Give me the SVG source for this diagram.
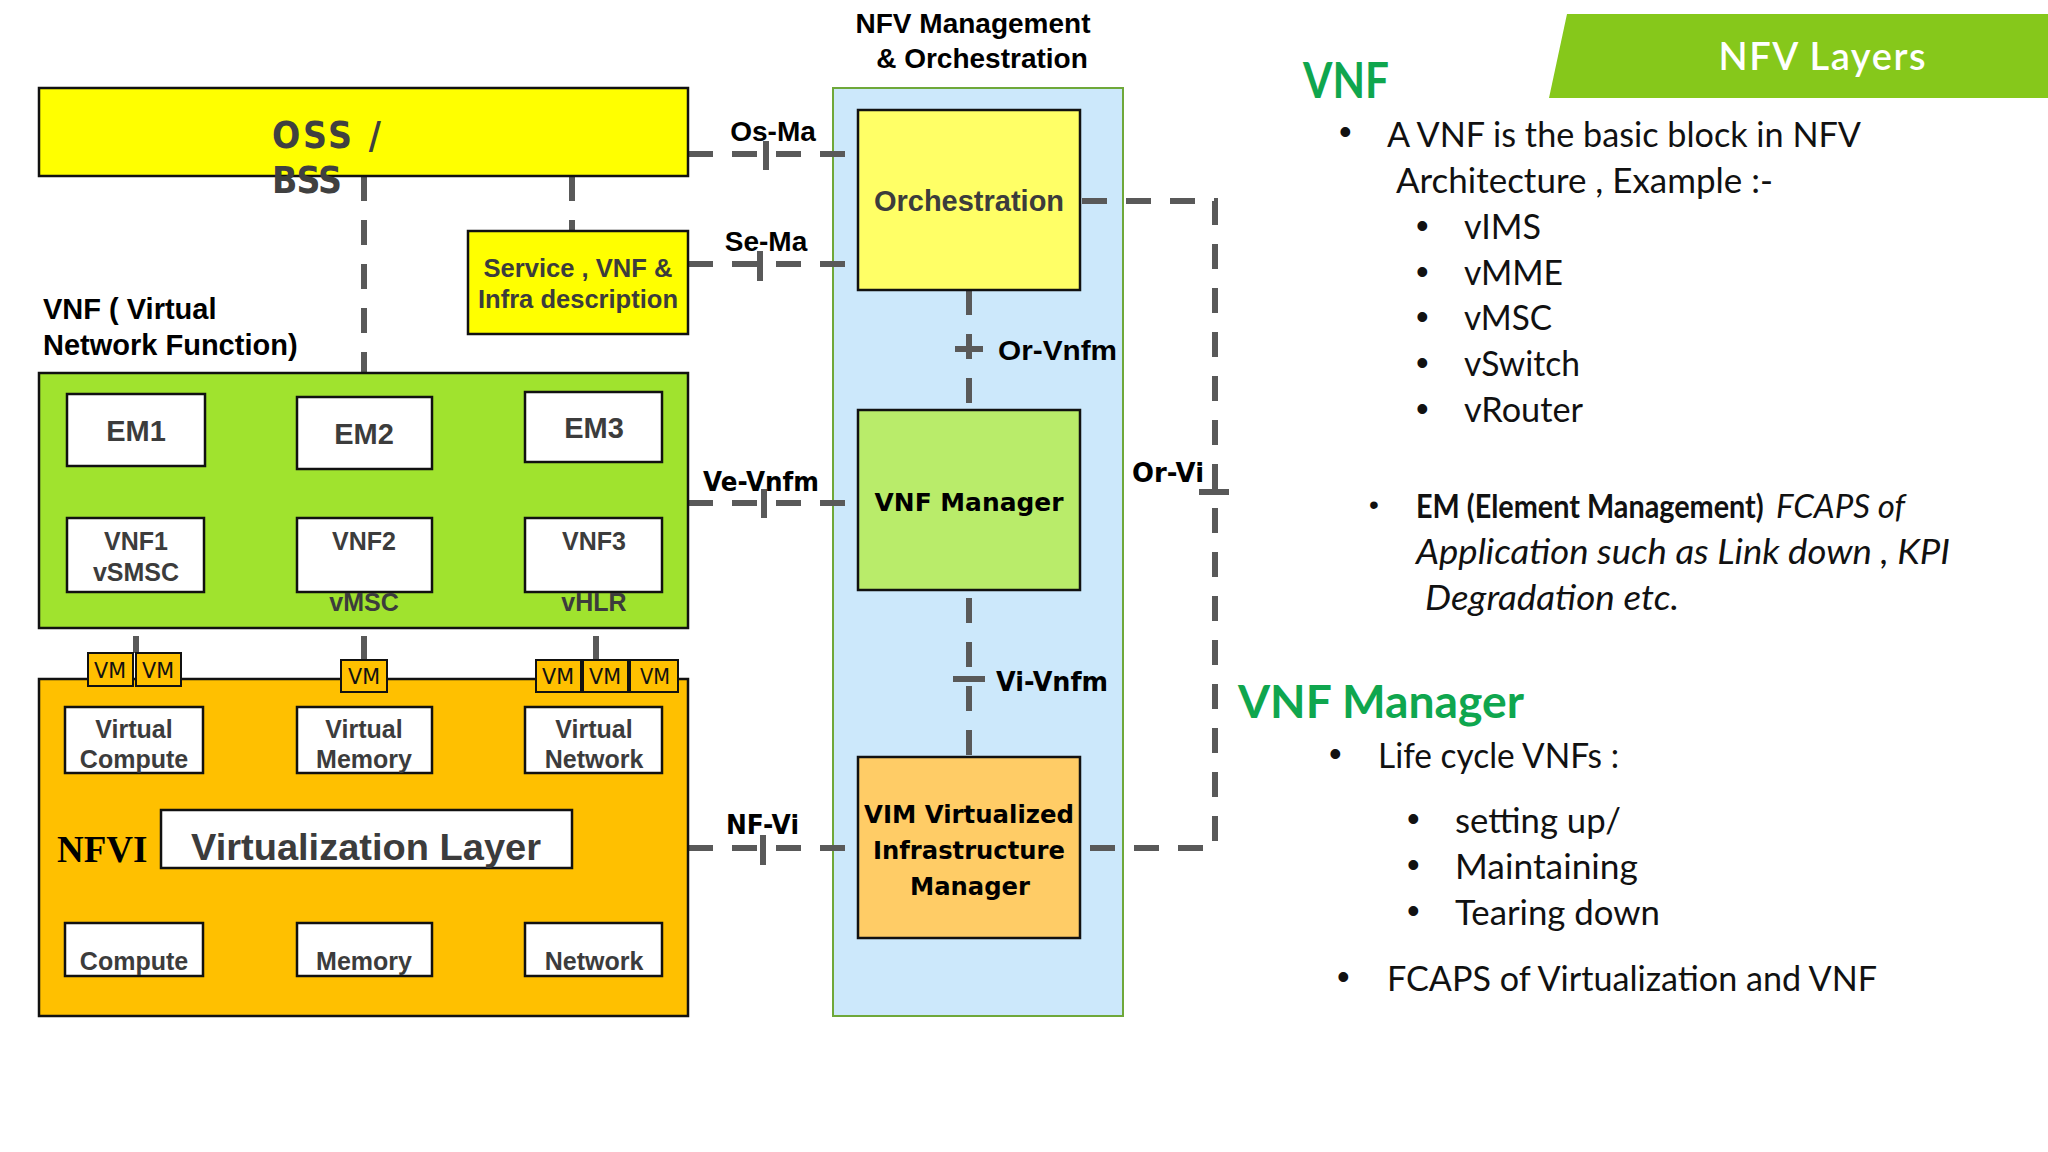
<svg xmlns="http://www.w3.org/2000/svg" width="2048" height="1152" viewBox="0 0 2048 1152">
<style>
.box{stroke:#111;stroke-width:2.5}
.w{fill:#fff}
.lbl{font-family:"Liberation Sans",Arial,sans-serif;font-weight:bold;fill:#3c3c3c;text-anchor:middle}
.blk{font-family:"Liberation Sans",Arial,sans-serif;font-weight:bold;fill:#000}
.dj{font-family:"DejaVu Sans",sans-serif;font-weight:bold;fill:#000}
.vm{fill:#FFC000;stroke:#111;stroke-width:2}
.vmt{font-family:"DejaVu Sans Condensed","DejaVu Sans",sans-serif;font-size:22px;fill:#111;text-anchor:middle}
.dash{fill:none;stroke:#595959;stroke-width:6;stroke-dasharray:25 19}
.tick{stroke:#595959;stroke-width:6}
.rt{font-family:Lato,"Open Sans",sans-serif;fill:#111}
.bul{font-family:"Liberation Sans",Arial,sans-serif;fill:#111;font-size:36px}
.grn{font-family:Lato,"Open Sans",sans-serif;font-weight:bold;fill:#0FA64E}
</style>

<rect x="0" y="0" width="2048" height="1152" fill="#fff"/>

<g id="mano">
<rect x="833" y="88" width="290" height="928" fill="#CCE8FB" stroke="#6FA83A" stroke-width="2"/>
<text class="blk" x="973" y="33" font-size="28" text-anchor="middle">NFV Management</text>
<text class="blk" x="982" y="68" font-size="28" text-anchor="middle">&amp; Orchestration</text>
</g>

<g id="connectors">
<line class="dash" x1="364" y1="176" x2="364" y2="373"/>
<line class="dash" x1="572" y1="176" x2="572" y2="231"/>
<line class="dash" x1="136" y1="466" x2="136" y2="518"/>
<line class="dash" x1="364" y1="469" x2="364" y2="518"/>
<line class="dash" x1="596" y1="462" x2="596" y2="518"/>
<line class="dash" x1="136" y1="592" x2="136" y2="653" stroke-dasharray="20 20"/>
<line class="dash" x1="364" y1="592" x2="364" y2="659" stroke-dasharray="20 20"/>
<line class="dash" x1="596" y1="592" x2="596" y2="659" stroke-dasharray="20 20"/>

<line class="dash" x1="688" y1="154" x2="858" y2="154"/>
<line class="tick" x1="766" y1="141" x2="766" y2="170"/>
<line class="dash" x1="688" y1="264" x2="850" y2="264"/>
<line class="tick" x1="760" y1="251" x2="760" y2="281"/>
<line class="dash" x1="688" y1="503" x2="858" y2="503"/>
<line class="tick" x1="764" y1="489" x2="764" y2="518"/>
<line class="dash" x1="688" y1="848" x2="858" y2="848"/>
<line class="tick" x1="763" y1="835" x2="763" y2="865"/>

<line class="dash" x1="969" y1="290" x2="969" y2="410"/>
<line class="tick" x1="955" y1="349" x2="983" y2="349"/>
<line class="dash" x1="969" y1="598" x2="969" y2="757"/>
<line class="tick" x1="953" y1="679" x2="985" y2="679"/>

<path class="dash" d="M1082,201 H1215 V848 H1082"/>
<line class="tick" x1="1199" y1="492" x2="1229" y2="492"/>

<text class="blk" x="773" y="141" font-size="28" text-anchor="middle">Os-Ma</text>
<text class="blk" x="766" y="251" font-size="28" text-anchor="middle">Se-Ma</text>
<text class="dj" x="703" y="491" font-size="26" textLength="116" lengthAdjust="spacingAndGlyphs">Ve-Vnfm</text>
<text class="dj" x="726" y="834" font-size="26" textLength="73" lengthAdjust="spacingAndGlyphs">NF-Vi</text>
<text class="blk" x="998" y="360" font-size="28" textLength="119" lengthAdjust="spacingAndGlyphs">Or-Vnfm</text>
<text class="dj" x="996" y="691" font-size="26" textLength="112" lengthAdjust="spacingAndGlyphs">Vi-Vnfm</text>
<text class="dj" x="1132" y="482" font-size="26" textLength="72" lengthAdjust="spacingAndGlyphs">Or-Vi</text>
</g>

<g id="oss">
<rect class="box" x="39" y="88" width="649" height="88" fill="#FFFF00"/>
<text x="272" y="148" font-family="'DejaVu Sans Condensed','DejaVu Sans',sans-serif" font-weight="bold" font-size="37" fill="#404040" textLength="109" lengthAdjust="spacing">OSS /</text>
<text x="272" y="193" font-family="'DejaVu Sans Condensed','DejaVu Sans',sans-serif" font-weight="bold" font-size="37" fill="#404040" textLength="70" lengthAdjust="spacing">BSS</text>
</g>

<g id="service">
<rect class="box" x="468" y="231" width="220" height="103" fill="#FFFF00"/>
<text class="lbl" x="578" y="277" font-size="25" textLength="189" lengthAdjust="spacingAndGlyphs">Service , VNF &amp;</text>
<text class="lbl" x="578" y="308" font-size="25" textLength="200" lengthAdjust="spacingAndGlyphs">Infra description</text>
</g>

<g id="vnf-title">
<text class="blk" x="43" y="319" font-size="29">VNF ( Virtual</text>
<text class="blk" x="43" y="355" font-size="29">Network Function)</text>
</g>

<g id="vnf-layer">
<rect class="box" x="39" y="373" width="649" height="255" fill="#A0E32E"/>
</g>
<g id="em1"><rect class="box w" x="67" y="394" width="138" height="72"/><text class="lbl" x="136" y="441" font-size="29">EM1</text></g>
<g id="em2"><rect class="box w" x="297" y="397" width="135" height="72"/><text class="lbl" x="364" y="444" font-size="29">EM2</text></g>
<g id="em3"><rect class="box w" x="525" y="392" width="137" height="70"/><text class="lbl" x="594" y="438" font-size="29">EM3</text></g>
<g id="vnf1"><rect class="box w" x="67" y="518" width="137" height="74"/><text class="lbl" x="136" y="550" font-size="25">VNF1</text><text class="lbl" x="136" y="581" font-size="25">vSMSC</text></g>
<g id="vnf2"><rect class="box w" x="297" y="518" width="135" height="74"/><text class="lbl" x="364" y="550" font-size="25">VNF2</text><text class="lbl" x="364" y="611" font-size="25">vMSC</text></g>
<g id="vnf3"><rect class="box w" x="525" y="518" width="137" height="74"/><text class="lbl" x="594" y="550" font-size="25">VNF3</text><text class="lbl" x="594" y="611" font-size="25">vHLR</text></g>

<g id="nfvi">
<rect class="box" x="39" y="679" width="649" height="337" fill="#FFC000"/>
<text x="57" y="862" font-family="'Liberation Serif','Times New Roman',serif" font-weight="bold" font-size="37" fill="#000">NFVI</text>
</g>
<g id="vm-group">
<rect class="vm" x="88" y="653" width="45" height="33"/><text class="vmt" x="110" y="678" textLength="32" lengthAdjust="spacingAndGlyphs">VM</text>
<rect class="vm" x="136" y="653" width="45" height="33"/><text class="vmt" x="158" y="678" textLength="32" lengthAdjust="spacingAndGlyphs">VM</text>
<rect class="vm" x="341" y="660" width="46" height="32"/><text class="vmt" x="364" y="684" textLength="32" lengthAdjust="spacingAndGlyphs">VM</text>
<rect class="vm" x="536" y="660" width="45" height="32"/><text class="vmt" x="558" y="684" textLength="32" lengthAdjust="spacingAndGlyphs">VM</text>
<rect class="vm" x="583" y="660" width="45" height="32"/><text class="vmt" x="605" y="684" textLength="32" lengthAdjust="spacingAndGlyphs">VM</text>
<rect class="vm" x="630" y="660" width="48" height="32"/><text class="vmt" x="655" y="684" textLength="30" lengthAdjust="spacingAndGlyphs">VM</text>
</g>
<g id="vcompute"><rect class="box w" x="65" y="707" width="138" height="66"/><text class="lbl" x="134" y="738" font-size="25">Virtual</text><text class="lbl" x="134" y="768" font-size="25">Compute</text></g>
<g id="vmemory"><rect class="box w" x="297" y="707" width="135" height="66"/><text class="lbl" x="364" y="738" font-size="25">Virtual</text><text class="lbl" x="364" y="768" font-size="25">Memory</text></g>
<g id="vnetwork"><rect class="box w" x="525" y="707" width="137" height="66"/><text class="lbl" x="594" y="738" font-size="25">Virtual</text><text class="lbl" x="594" y="768" font-size="25">Network</text></g>
<g id="virt-layer"><rect class="box w" x="161" y="810" width="411" height="58"/><text x="191" y="860" font-family="'Liberation Sans',Arial,sans-serif" font-weight="bold" font-size="37" fill="#3c3c3c" textLength="350" lengthAdjust="spacingAndGlyphs">Virtualization Layer</text></g>
<g id="compute"><rect class="box w" x="65" y="923" width="138" height="53"/><text class="lbl" x="134" y="970" font-size="25">Compute</text></g>
<g id="memory"><rect class="box w" x="297" y="923" width="135" height="53"/><text class="lbl" x="364" y="970" font-size="25">Memory</text></g>
<g id="network"><rect class="box w" x="525" y="923" width="137" height="53"/><text class="lbl" x="594" y="970" font-size="25">Network</text></g>

<g id="orchestration"><rect class="box" x="858" y="110" width="222" height="180" fill="#FFFF66"/><text class="lbl" x="969" y="211" font-size="29">Orchestration</text></g>
<g id="vnfm"><rect class="box" x="858" y="410" width="222" height="180" fill="#B9EC6A"/><text class="dj" x="969" y="511" font-size="25" text-anchor="middle" textLength="189" lengthAdjust="spacingAndGlyphs">VNF Manager</text></g>
<g id="vim"><rect class="box" x="858" y="757" width="222" height="181" fill="#FFCC66"/>
<text class="dj" x="969" y="823" font-size="25" text-anchor="middle" textLength="210" lengthAdjust="spacingAndGlyphs">VIM Virtualized</text>
<text class="dj" x="969" y="859" font-size="25" text-anchor="middle" textLength="192" lengthAdjust="spacingAndGlyphs">Infrastructure</text>
<text class="dj" x="970" y="895" font-size="25" text-anchor="middle" textLength="120" lengthAdjust="spacingAndGlyphs">Manager</text>
</g>

<g id="banner">
<polygon points="1567,14 2048,14 2048,98 1549,98" fill="#86C81B"/>
<text x="1822" y="70" font-family="Lato,'Open Sans',sans-serif" font-weight="600" font-size="38" fill="#fff" text-anchor="middle" textLength="207" lengthAdjust="spacing">NFV Layers</text>
</g>
<g id="vnf-notes">
<text class="grn" x="1303" y="98" font-size="50" textLength="86" lengthAdjust="spacingAndGlyphs">VNF</text>
<text class="bul" x="1339" y="144">•</text>
<text class="rt" x="1387" y="147" font-size="34" textLength="474" lengthAdjust="spacingAndGlyphs">A VNF is the basic block in NFV</text>
<text class="rt" x="1396" y="193" font-size="34" textLength="377" lengthAdjust="spacingAndGlyphs">Architecture , Example :-</text>
<text class="bul" x="1416" y="238">•</text>
<text class="rt" x="1464" y="239" font-size="34" textLength="77" lengthAdjust="spacingAndGlyphs">vIMS</text>
<text class="bul" x="1416" y="284">•</text>
<text class="rt" x="1464" y="285" font-size="34" textLength="99" lengthAdjust="spacingAndGlyphs">vMME</text>
<text class="bul" x="1416" y="329">•</text>
<text class="rt" x="1464" y="330" font-size="34" textLength="88" lengthAdjust="spacingAndGlyphs">vMSC</text>
<text class="bul" x="1416" y="375">•</text>
<text class="rt" x="1464" y="376" font-size="34" textLength="116" lengthAdjust="spacingAndGlyphs">vSwitch</text>
<text class="bul" x="1416" y="421">•</text>
<text class="rt" x="1464" y="422" font-size="34" textLength="119" lengthAdjust="spacingAndGlyphs">vRouter</text>

<text class="bul" x="1369" y="514" style="font-size:28px">•</text>
<text class="rt" transform="translate(1416,518) scale(0.9,1)" x="0" y="0" font-size="32" font-weight="bold">EM (Element Management)</text>
<text class="rt" x="1776" y="518" font-size="33" font-style="italic">FCAPS of</text>
<text class="rt" x="1416" y="564" font-size="34" font-style="italic" textLength="534" lengthAdjust="spacingAndGlyphs">Application such as Link down , KPI</text>
<text class="rt" x="1425" y="610" font-size="34" font-style="italic" textLength="254" lengthAdjust="spacingAndGlyphs">Degradation etc.</text>
</g>
<g id="vnfm-notes">
<text class="grn" x="1238" y="718" font-size="46" textLength="286" lengthAdjust="spacingAndGlyphs">VNF Manager</text>
<text class="bul" x="1329" y="766">•</text>
<text class="rt" x="1378" y="768" font-size="34" textLength="241" lengthAdjust="spacingAndGlyphs">Life cycle VNFs :</text>
<text class="bul" x="1407" y="831">•</text>
<text class="rt" x="1455" y="833" font-size="34" textLength="166" lengthAdjust="spacingAndGlyphs">setting up/</text>
<text class="bul" x="1407" y="877">•</text>
<text class="rt" x="1455" y="879" font-size="34" textLength="183" lengthAdjust="spacingAndGlyphs">Maintaining</text>
<text class="bul" x="1407" y="923">•</text>
<text class="rt" x="1455" y="925" font-size="34" textLength="205" lengthAdjust="spacingAndGlyphs">Tearing down</text>
<text class="bul" x="1337" y="989">•</text>
<text class="rt" x="1387" y="991" font-size="34" textLength="490" lengthAdjust="spacingAndGlyphs">FCAPS of Virtualization and VNF</text>
</g>
</svg>
